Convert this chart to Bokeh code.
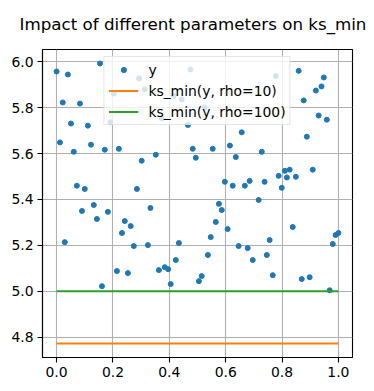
from bokeh.plotting import figure
from bokeh.models import FixedTicker, Range1d, Legend, LegendItem, CustomJSTickFormatter
from bokeh.embed import file_html
from bokeh.resources import INLINE

# ---- data ----
x_vals = [0.000, 0.012, 0.022, 0.029, 0.040, 0.051, 0.061, 0.072, 0.083, 0.090,
          0.100, 0.111, 0.122, 0.132, 0.143, 0.154, 0.161, 0.171, 0.182, 0.191,
          0.203, 0.214, 0.221, 0.232, 0.242, 0.253, 0.263, 0.274, 0.285, 0.293,
          0.302, 0.313, 0.324, 0.333, 0.352, 0.363, 0.373, 0.384, 0.396, 0.405,
          0.416, 0.423, 0.434, 0.444, 0.466, 0.475, 0.483, 0.494, 0.505, 0.515,
          0.525, 0.537, 0.547, 0.554, 0.565, 0.576, 0.586, 0.597, 0.607, 0.615,
          0.625, 0.636, 0.646, 0.657, 0.668, 0.678, 0.685, 0.696, 0.717, 0.728,
          0.738, 0.746, 0.756, 0.767, 0.778, 0.788, 0.799, 0.810, 0.817, 0.827,
          0.838, 0.849, 0.859, 0.870, 0.877, 0.888, 0.898, 0.909, 0.920, 0.930,
          0.940, 0.948, 0.959, 0.969, 0.980, 0.990, 1.000]
y_vals = [5.958, 5.649, 5.823, 5.214, 5.945, 5.731, 5.608, 5.460, 5.818, 5.350,
          5.446, 5.722, 5.639, 5.376, 5.315, 5.993, 5.022, 5.617, 5.346, 5.737,
          5.862, 5.088, 5.621, 5.254, 5.306, 5.079, 5.284, 5.197, 5.446, 5.928,
          5.569, 5.880, 5.201, 5.363, 5.595, 5.092, 5.753, 5.105, 5.096, 5.031,
          5.853, 5.136, 5.210, 5.836, 5.725, 5.967, 5.621, 5.582, 5.044, 5.066,
          5.801, 5.158, 5.236, 5.621, 5.302, 5.381, 5.354, 5.477, 5.271, 5.635,
          5.460, 5.585, 5.197, 5.693, 5.460, 5.188, 5.481, 5.136, 5.398, 5.608,
          5.477, 5.158, 5.223, 5.070, 5.938, 5.503, 5.451, 5.525, 5.496, 5.530,
          5.280, 5.499, 5.961, 5.053, 5.832, 5.674, 5.061, 5.530, 5.875, 5.766,
          5.893, 5.932, 5.748, 5.004, 5.206, 5.245, 5.254]
ks_rho10 = 4.772
ks_rho100 = 5.000
x_ticks = [0.0, 0.2, 0.4, 0.6, 0.8, 1.0]
y_ticks = [4.8, 5.0, 5.2, 5.4, 5.6, 5.8, 6.0]
labels = ["y", "ks_min(y, rho=10)", "ks_min(y, rho=100)"]

FONT = "DejaVu Sans"

p = figure(width=366, height=382,
           min_border_left=42, min_border_right=14, min_border_top=49, min_border_bottom=25,
           x_range=Range1d(-0.05, 1.05), y_range=Range1d(4.711, 6.054),
           output_backend="svg", toolbar_location=None,
           title="Impact of different parameters on ks_min")

p.title.text_font = FONT
p.title.text_font_size = "16.7px"
p.title.text_font_style = "normal"
p.title.text_color = "black"
p.title.align = "left"
p.title.offset = -23
p.title.vertical_align = "top"
p.title.standoff = 27

p.outline_line_color = "black"
p.outline_line_width = 1.1
p.background_fill_color = "white"
p.border_fill_color = "white"

for ax in (p.xaxis[0], p.yaxis[0]):
    ax.axis_line_color = "black"
    ax.axis_line_width = 1.1
    ax.major_tick_line_color = "black"
    ax.major_tick_line_width = 1.1
    ax.major_tick_out = 5
    ax.major_tick_in = 0
    ax.minor_tick_line_color = None
    ax.major_label_text_font = FONT
    ax.major_label_text_font_size = "13.9px"
    ax.major_label_text_color = "black"
    ax.major_label_standoff = 4

p.xaxis[0].ticker = FixedTicker(ticks=x_ticks)
p.yaxis[0].ticker = FixedTicker(ticks=y_ticks)
p.xaxis[0].formatter = CustomJSTickFormatter(code="return tick.toFixed(1);")
p.yaxis[0].formatter = CustomJSTickFormatter(code="return tick.toFixed(1);")

for g in (p.xgrid[0], p.ygrid[0]):
    g.grid_line_color = "#b0b0b0"
    g.grid_line_width = 1.1
p.xgrid[0].ticker = FixedTicker(ticks=x_ticks)
p.ygrid[0].ticker = FixedTicker(ticks=y_ticks)

r_pts = p.scatter(x_vals, y_vals, size=5, color="#1f77b4", line_color="#1f77b4")
x_line = [min(x_vals), max(x_vals)]
r10 = p.line(x_line, [ks_rho10, ks_rho10], line_color="#ff7f0e", line_width=2.1)
r100 = p.line(x_line, [ks_rho100, ks_rho100], line_color="#2ca02c", line_width=2.1)

legend = Legend(items=[LegendItem(label=labels[0], renderers=[r_pts]),
                       LegendItem(label=labels[1], renderers=[r10]),
                       LegendItem(label=labels[2], renderers=[r100])],
                location="top_center")
legend.margin = 7
legend.padding = 4
legend.spacing = 4
legend.label_height = 17
legend.glyph_height = 13
legend.glyph_width = 30
legend.label_standoff = 10
legend.label_text_font = FONT
legend.label_text_font_size = "13.9px"
legend.label_text_color = "black"
legend.border_line_color = "#cccccc"
legend.border_line_width = 1
legend.background_fill_color = "white"
legend.background_fill_alpha = 0.8
p.add_layout(legend, "center")

open("out.html", "w").write(file_html(p, INLINE))
